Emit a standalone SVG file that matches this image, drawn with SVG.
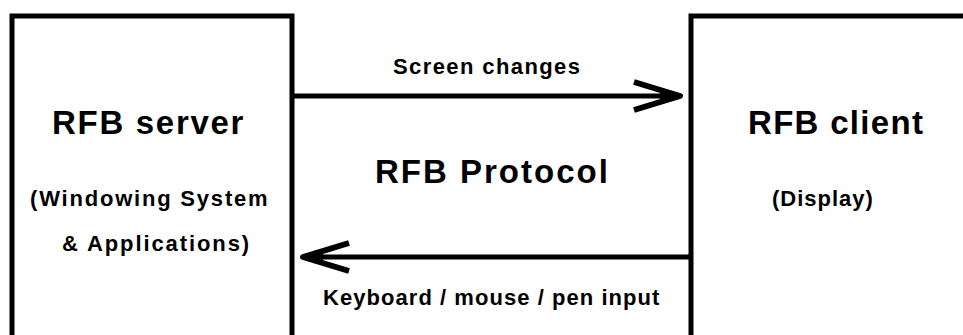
<svg xmlns="http://www.w3.org/2000/svg" width="963" height="335" viewBox="0 0 963 335">
  <style>
    .box { fill: #fff; stroke: #000; stroke-width: 5; }
    .edge { fill: none; stroke: #000; stroke-width: 5; }
    text { font-family: "Liberation Sans", Arial, sans-serif; font-weight: bold; fill: #000; }
    .title { font-size: 33px; }
    .small { font-size: 22px; }
  </style>
  <defs>
    <marker id="chev" markerUnits="userSpaceOnUse" markerWidth="60" markerHeight="40" refX="50" refY="20" orient="auto" overflow="visible">
      <path d="M 4 6 L 50 20 L 4 34" fill="none" stroke="#000" stroke-width="6" stroke-linejoin="round"/>
      <path d="M 30 14 L 50 20 L 30 26 Z" fill="#000"/>
    </marker>
  </defs>
  <rect width="963" height="335" fill="#fff"/>

  <g id="rfb-server">
    <rect class="box" x="12" y="16" width="280" height="330"/>
    <text class="title" x="52" y="134" letter-spacing="1.7">RFB server</text>
    <text class="small" x="30" y="206" letter-spacing="1.8">(Windowing System</text>
    <text class="small" x="62" y="251" letter-spacing="1.9">&amp; Applications)</text>
  </g>

  <g id="rfb-client">
    <rect class="box" x="691" y="16" width="290" height="330"/>
    <text class="title" x="748" y="134" letter-spacing="1.3">RFB client</text>
    <text class="small" x="772" y="206" letter-spacing="1">(Display)</text>
  </g>

  <g id="protocol">
    <text class="title" x="375" y="183" letter-spacing="2">RFB Protocol</text>
  </g>

  <g id="connectors">
    <line class="edge" x1="293" y1="96" x2="680" y2="96" marker-end="url(#chev)"/>
    <text class="small" x="393" y="74" letter-spacing="1.4">Screen changes</text>
    <line class="edge" x1="689" y1="257" x2="303" y2="257" marker-end="url(#chev)"/>
    <text class="small" x="323" y="305" letter-spacing="1.05">Keyboard / mouse / pen input</text>
  </g>
</svg>
